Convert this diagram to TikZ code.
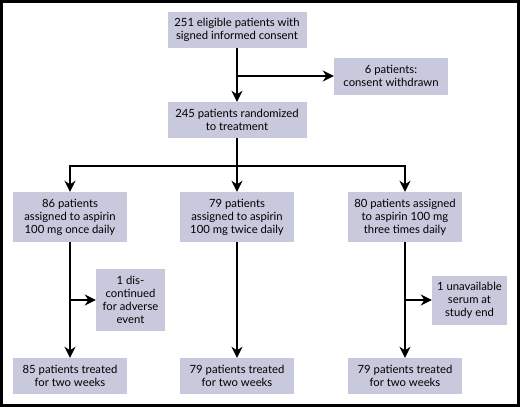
\documentclass[tikz,border=0pt]{standalone}
\usepackage{fontspec}
\setmainfont{Lato}
\usepackage{tikz}
\usetikzlibrary{arrows.meta,positioning,calc}
\definecolor{cbox}{HTML}{C8C9DD}
\tikzset{
  box/.style={fill=cbox, draw=none, inner sep=2pt, align=center, font=\fontsize{11.3}{13}\selectfont},
  mainn/.style={box, minimum width=139pt, minimum height=36pt},
  armn/.style={box, minimum width=114pt, minimum height=50pt},
  endn/.style={box, minimum width=114pt, minimum height=36pt},
  pre/.style={-{Stealth[length=11pt, width=11pt, inset=3.5pt]}, line width=2pt},
  link/.style={line width=2pt},
}
\begin{document}
\begin{tikzpicture}[x=1pt,y=-1pt]
\useasboundingbox (0,0) rectangle (520,407);
\draw[line width=3pt] (1.5,1.5) rectangle (518.5,405.5);
% ---------------- enrolment
\node[mainn] (cons) at (237,30) {251 eligible patients with\\signed informed consent};
\node[box, minimum width=114pt, minimum height=37pt] (wd) at (391,76) {6 patients:\\consent withdrawn};
\node[mainn] (rand) at (237,120) {245 patients randomized\\to treatment};
\coordinate (j1) at (cons.south |- wd.west);
\draw[pre] (cons) -- (rand);
\draw[pre] (j1) -- (wd.west);
% ---------------- arms
\node[armn] (armA) at (70,217) {86 patients\\assigned to aspirin\\100 mg once daily};
\node[armn] (armB) at (237,217) {79 patients\\assigned to aspirin\\100 mg twice daily};
\node[armn] (armC) at (405,217) {80 patients assigned\\to aspirin 100 mg\\three times daily};
\coordinate (split) at (237,166);
\draw[link] (rand.south) -- (split);
\draw[pre] (split) -| (armA.north);
\draw[pre] (split) -- (armB.north);
\draw[pre] (split) -| (armC.north);
% ---------------- outcome
\node[endn] (endA) at (70,376) {85 patients treated\\for two weeks};
\node[endn] (endB) at (237,376) {79 patients treated\\for two weeks};
\node[endn] (endC) at (405,376) {79 patients treated\\for two weeks};
\node[box, minimum width=69pt, minimum height=62pt] (disc) at (130.5,300) {1 dis-\\continued\\for adverse\\event};
\node[box, minimum width=75pt, minimum height=49pt] (serum) at (469.5,300) {1 unavailable\\serum at\\study end};
\draw[pre] (armA) -- (endA);
\draw[pre] (armB) -- (endB);
\draw[pre] (armC) -- (endC);
\coordinate (jA) at (armA.south |- disc.west);
\coordinate (jC) at (armC.south |- serum.west);
\draw[pre] (jA) -- (disc.west);
\draw[pre] (jC) -- (serum.west);
\end{tikzpicture}
\end{document}
